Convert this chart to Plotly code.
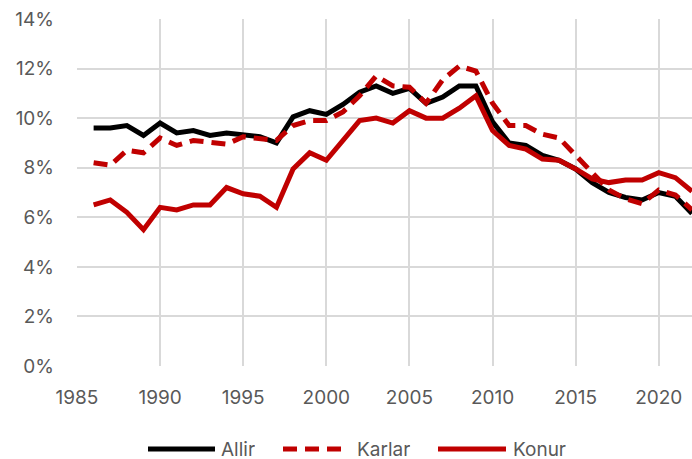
import plotly.graph_objects as go

years = list(range(1986, 2023))
allir = [9.6, 9.6, 9.7, 9.3, 9.8, 9.4, 9.5, 9.3, 9.4, 9.35, 9.25, 9.0,
         10.05, 10.3, 10.15, 10.55, 11.05, 11.3, 11.0, 11.2, 10.6, 10.85,
         11.3, 11.3, 9.85, 9.0, 8.9, 8.5, 8.3, 7.95, 7.4, 7.0, 6.8, 6.7, 7.0, 6.85, 6.15]
karlar = [8.2, 8.1, 8.7, 8.6, 9.2, 8.9, 9.1, 9.0, 8.95, 9.25, 9.15, 9.1,
          9.7, 9.9, 9.9, 10.25, 10.9, 11.7, 11.3, 11.25, 10.6, 11.55,
          12.1, 11.9, 10.6, 9.7, 9.7, 9.35, 9.2, 8.5, 7.85, 7.1, 6.75, 6.55, 7.1, 6.9, 6.3]
konur = [6.5, 6.7, 6.2, 5.5, 6.4, 6.3, 6.5, 6.5, 7.2, 6.95, 6.85, 6.4,
         7.95, 8.6, 8.3, 9.1, 9.9, 10.0, 9.8, 10.3, 10.0, 10.0,
         10.4, 10.9, 9.5, 8.9, 8.75, 8.35, 8.3, 7.95, 7.55, 7.4, 7.5, 7.5, 7.8, 7.6, 7.05]

series = [
    ("Allir", [v / 100 for v in allir], "#000000", "solid"),
    ("Karlar", [v / 100 for v in karlar], "#C00000", "14px,8px"),
    ("Konur", [v / 100 for v in konur], "#C00000", "solid"),
]

W, H = 692, 459
ML, MR, MT, MB = 77, 0, 19, 93
PW, PH = W - ML - MR, H - MT - MB

def px_x(x):
    return (x - ML) / PW

def px_y(y):
    return (H - MB - y) / PH

font_family = "Inter, 'Open Sans', sans-serif"
fig = go.Figure()
for name, vals, color, dash in series:
    fig.add_trace(go.Scatter(x=years, y=vals, name=name, mode="lines",
                             line=dict(color=color, width=5, dash=dash),
                             showlegend=False))

# manual legend (long line symbols like the reference)
legend_y = 449
legend_items = [(148, 215, 220), (283, 345, 356), (438, 506, 512)]
for (name, _, color, dash), (x0, x1, tx) in zip(series, legend_items):
    fig.add_shape(type="line", xref="paper", yref="paper",
                  x0=px_x(x0), x1=px_x(x1), y0=px_y(legend_y), y1=px_y(legend_y),
                  line=dict(color=color, width=5, dash=dash))
    fig.add_annotation(xref="paper", yref="paper", x=px_x(tx), y=px_y(legend_y),
                       xanchor="left", yanchor="middle", text=name, showarrow=False,
                       height=20, valign="middle", borderpad=0,
                       font=dict(size=19, color="#595959", family=font_family))

fig.update_layout(
    width=W, height=H,
    margin=dict(l=ML, r=MR, t=MT, b=MB, autoexpand=False),
    paper_bgcolor="white", plot_bgcolor="white",
    font=dict(family=font_family, size=19, color="#595959"),
    showlegend=False,
)
fig.update_xaxes(range=[1985, 2022], tickmode="linear", tick0=1985, dtick=5,
                 showgrid=True, gridcolor="#d9d9d9", gridwidth=1.5, automargin=False,
                 zeroline=False, showline=False, ticks="", ticklabelstandoff=18)
fig.update_yaxes(range=[0, 0.14], tickmode="linear", tick0=0, dtick=0.02,
                 tickformat=".0%", showgrid=True, gridcolor="#d9d9d9", gridwidth=1.5,
                 automargin=False,
                 zeroline=False, showline=False, ticks="", ticklabelstandoff=22)

fig.write_html("out.html", config={"displayModeBar": False},
               post_script="document.body.style.margin='0';document.body.style.overflow='hidden';")
